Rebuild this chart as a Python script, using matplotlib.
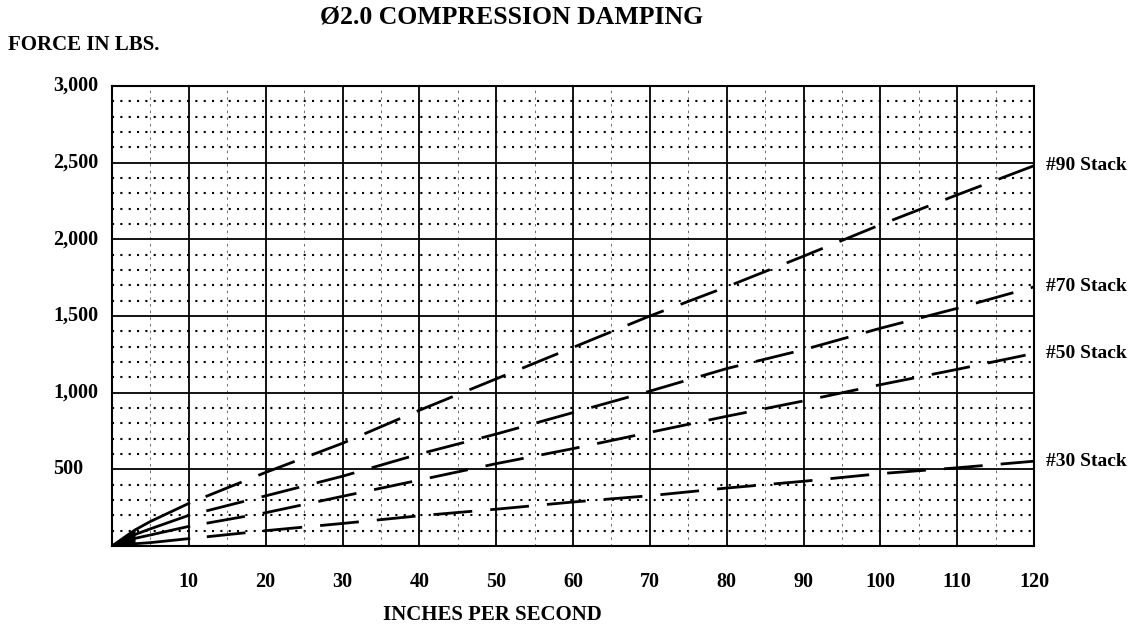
import numpy as np
import matplotlib.pyplot as plt
from matplotlib.transforms import blended_transform_factory

# force vs shaft speed for each valve stack
speed = [0, 3, 5, 10, 20, 30, 40, 50, 60, 70, 80, 90, 100, 110, 120]
stack_90 = [0, 105, 160, 278, 480, 670, 885, 1090, 1295, 1500, 1690, 1890, 2095, 2290, 2480]
stack_70 = [0, 75, 112, 200, 327, 455, 600, 730, 870, 1010, 1157, 1280, 1420, 1550, 1690]
stack_50 = [0, 50, 72, 128, 217, 324, 430, 537, 635, 741, 846, 946, 1052, 1152, 1256]
stack_30 = [0, 15, 22, 48, 100, 147, 197, 240, 287, 328, 378, 422, 472, 510, 553]
stack_names = ["#90 Stack", "#70 Stack", "#50 Stack", "#30 Stack"]

x_ticks = list(range(10, 121, 10))
y_ticks = [500, 1000, 1500, 2000, 2500, 3000]
y_tick_labels = ["500", "1,000", "1,500", "2,000", "2,500", "3,000"]

W, H = 1131, 628
plt.rcParams['font.family'] = ['Liberation Serif', 'DejaVu Serif']
plt.rcParams['font.weight'] = 'bold'

fig = plt.figure(figsize=(W / 100, H / 100), dpi=100)
ax = fig.add_axes([112 / W, 1 - 546 / H, 922 / W, 460 / H])
ax.set_xlim(0, 120)
ax.set_ylim(0, 3000)

# graph-paper grid: dotted every 100 lbs, light dashes every 5 in/s, solid majors
for yv in range(100, 3000, 100):
    if yv % 500:
        ax.axhline(yv, color='black', lw=1.5, linestyle=(0, (1, 3)), zorder=1)
for xv in range(5, 120, 10):
    ax.axvline(xv, color='#555555', lw=0.6, linestyle=(0, (3, 5)), zorder=1)
for xv in x_ticks[:-1]:
    ax.axvline(xv, color='black', lw=1.3, zorder=2)
for yv in y_ticks[:-1]:
    ax.axhline(yv, color='black', lw=1.3, zorder=2)

for sp in ax.spines.values():
    sp.set_linewidth(1.5)
    sp.set_color('black')

# solid start up to 10 in/s, long dashes after that
for vals, name in zip([stack_90, stack_70, stack_50, stack_30], stack_names):
    ax.plot(speed[:4], vals[:4], color='black', lw=2.0, zorder=3)
    ax.plot(speed[3:], vals[3:], color='black', lw=2.0, linestyle=(14, (14, 6.5)), zorder=3)
    ax.annotate(name, xy=(120, vals[-1]), xytext=(12, 0), textcoords='offset pixels',
                ha='left', va='center', fontsize=14, fontweight='bold')
ax.fill_between(speed[:2], [0, 0], stack_90[:2], color='black', lw=0, zorder=3)

ax.set_xticks(x_ticks)
ax.set_xticklabels([str(v) for v in x_ticks], fontsize=14.5, fontweight='bold')
ax.tick_params(axis='x', length=0, pad=19)
ax.set_yticks([])

trans = blended_transform_factory(fig.transFigure, ax.transData)
for yv, lab in zip(y_ticks, y_tick_labels):
    ax.text(53 / W, yv, lab, transform=trans, ha='left', va='center',
            fontsize=14.5, fontweight='bold')

fig.text(512 / W, 1 - 17 / H, "Ø2.0 COMPRESSION DAMPING", ha='center', va='center',
         fontsize=18.5, fontweight='bold')
fig.text(8 / W, 1 - 45 / H, "FORCE IN LBS.", ha='left', va='center',
         fontsize=15, fontweight='bold')
fig.text(492 / W, 1 - 615 / H, "INCHES PER SECOND", ha='center', va='center',
         fontsize=15, fontweight='bold')

fig.savefig("out.png", dpi=100, facecolor='white')
